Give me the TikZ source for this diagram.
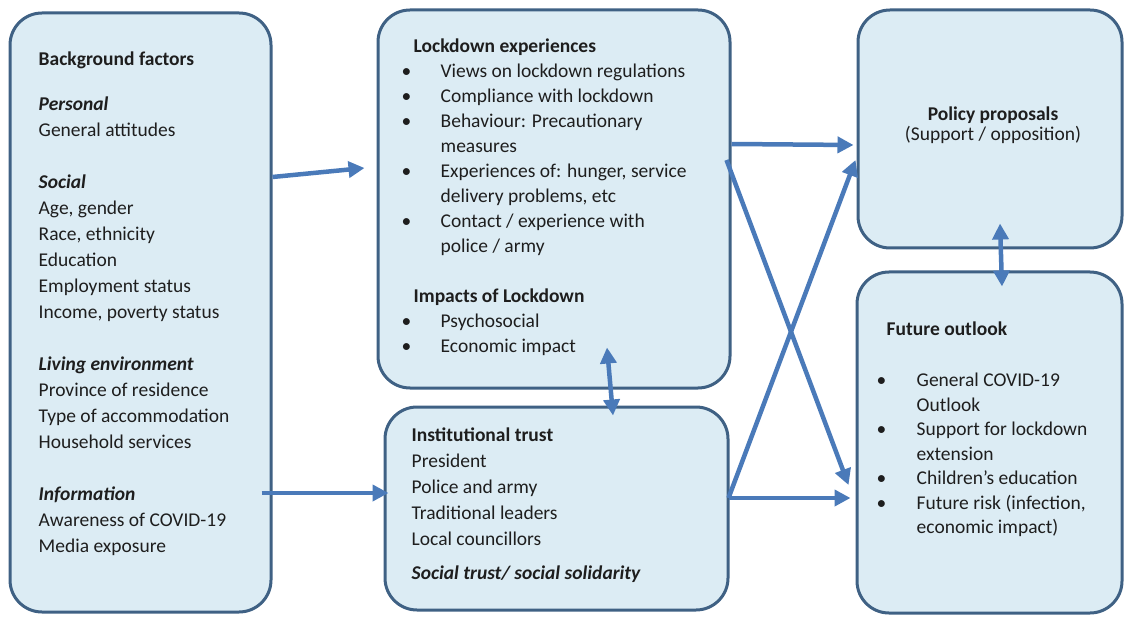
\documentclass[tikz,border=0pt]{standalone}
\usepackage{fontspec}
\setmainfont{Carlito}
\usepackage{tikz}
\usetikzlibrary{arrows.meta}
\usepackage{xcolor}

\definecolor{boxfill}{HTML}{DCECF4}
\definecolor{boxline}{HTML}{3F6184}
\definecolor{arrowblue}{HTML}{4A7AB9}
\definecolor{txtgray}{HTML}{1E1E1E}

\begin{document}
\begin{tikzpicture}[x=1pt,y=-1pt,
        box/.style={draw=boxline,fill=boxfill,line width=3pt,rounded corners=32pt,inner sep=0pt},
        txt/.style={inner sep=0pt,text=txtgray,font=\fontsize{19.5}{26}\selectfont},
        link/.style={draw=arrowblue,line width=4.5pt,-{Triangle[length=16pt,width=16pt]}},
        both/.style={link,{Triangle[length=16pt,width=16pt]}-{Triangle[length=16pt,width=16pt]}}]

        \useasboundingbox (0,0) rectangle (1126,617);

        % the five boxes
        \node[box,minimum width=261pt,minimum height=599pt] (bg) at (140.5,312.5) {};

        \node[box,minimum width=352pt,minimum height=378pt] (lock) at (554,199) {};

        \node[box,minimum width=343pt,minimum height=203pt] (trust) at (556.5,508.5) {};

        \node[box,minimum width=264pt,minimum height=238pt] (policy) at (990,129) {};

        \node[box,minimum width=265pt,minimum height=341pt] (future) at (989.5,442.5) {};

        % texts
        \node[txt,anchor=base west,xshift=30pt,yshift=-54pt] (bgtext) at (bg.north west) {\begin{tabular}[t]{@{}l@{}}
            \textbf{Background factors}\\[19pt]
            \textbf{\textit{Personal}}\\
            General attitudes\\[26pt]
            \textbf{\textit{Social}}\\
            Age, gender\\
            Race, ethnicity\\
            Education\\
            Employment status\\
            Income, poverty status\\[26pt]
            \textbf{\textit{Living environment}}\\
            Province of residence\\
            Type of accommodation\\
            Household services\\[26pt]
            \textbf{\textit{Information}}\\
            Awareness of COVID-19\\
            Media exposure
        \end{tabular}};

        \node[txt,anchor=base west,xshift=25pt,yshift=-44pt,font=\fontsize{19.5}{25}\selectfont] (locktext) at (lock.north west) {\begin{tabular}[t]{@{}p{39pt}@{}l@{}}
            \multicolumn{2}{@{\hspace{12pt}}l@{}}{\textbf{Lockdown experiences}}\\
            \textbullet & Views on lockdown regulations\\
            \textbullet & Compliance with lockdown\\
            \textbullet & Behaviour: Precautionary\\
                        & measures\\
            \textbullet & Experiences of: hunger, service\\
                        & delivery problems, etc\\
            \textbullet & Contact / experience with\\
                        & police / army\\[25pt]
            \multicolumn{2}{@{\hspace{12pt}}l@{}}{\textbf{Impacts of Lockdown}}\\
            \textbullet & Psychosocial\\
            \textbullet & Economic impact
        \end{tabular}};

        \node[txt,anchor=base west,xshift=28pt,yshift=-36pt] (trusttext) at (trust.north west) {\begin{tabular}[t]{@{}l@{}}
            \textbf{Institutional trust}\\
            President\\
            Police and army\\
            Traditional leaders\\
            Local councillors\\[8pt]
            \textbf{\textit{Social trust/ social solidarity}}
        \end{tabular}};

        \node[txt,anchor=base,xshift=3pt,yshift=-112pt,font=\fontsize{19.5}{20}\selectfont] (policytext) at (policy.north) {\begin{tabular}[t]{@{}c@{}}
            \textbf{Policy proposals}\\
            (Support / opposition)
        \end{tabular}};

        \node[txt,anchor=base west,xshift=21pt,yshift=-65pt,font=\fontsize{19.5}{24.5}\selectfont] (futuretext) at (future.north west) {\begin{tabular}[t]{@{}p{40pt}@{}l@{}}
            \multicolumn{2}{@{\hspace{10pt}}l@{}}{\textbf{Future outlook}}\\[26.5pt]
            \textbullet & General COVID-19\\
                        & Outlook\\
            \textbullet & Support for lockdown\\
                        & extension\\
            \textbullet & Children’s education\\
            \textbullet & Future risk (infection,\\
                        & economic impact)
        \end{tabular}};

        % arrow ends
        \coordinate[yshift=135.5pt] (bgA) at (bg.east);

        \coordinate[xshift=-11pt,yshift=-180.5pt] (bgB) at (bg.east);

        \coordinate[xshift=-12pt,yshift=31pt] (lockW) at (lock.west);

        \coordinate[yshift=55pt] (lockA) at (lock.east);

        \coordinate[xshift=-5pt,yshift=39pt] (lockB) at (lock.east);

        \coordinate[xshift=53pt,yshift=42pt] (lockS) at (lock.south);

        \coordinate[xshift=5pt,yshift=15.5pt] (trustW) at (trust.west);

        \coordinate[xshift=56.5pt,yshift=-10pt] (trustN) at (trust.north);

        \coordinate[xshift=-1pt,yshift=10.5pt] (trustE) at (trust.east);

        \coordinate[xshift=-3pt,yshift=-16pt] (policyA) at (policy.west);

        \coordinate[xshift=-1pt,yshift=-31pt] (policyB) at (policy.west);

        \coordinate[xshift=10pt,yshift=26pt] (policyS) at (policy.south);

        \coordinate[xshift=-7pt,yshift=-42.5pt] (futureA) at (future.west);

        \coordinate[xshift=-5pt,yshift=-55.5pt] (futureB) at (future.west);

        \coordinate[xshift=12.5pt,yshift=-16pt] (futureN) at (future.north);

        % connectors
        \draw[link] (bgA) -- (lockW);

        \draw[link] (bgB) -- (trustW);

        \draw[both] (lockS) -- (trustN);

        \draw[link] (lockA) -- (policyA);

        \draw[link] (lockB) -- (futureA);

        \draw[link] (trustE) -- (policyB);

        \draw[link] (trustE) -- (futureB);

        \draw[both] (policyS) -- (futureN);
    \end{tikzpicture}
\end{document}
